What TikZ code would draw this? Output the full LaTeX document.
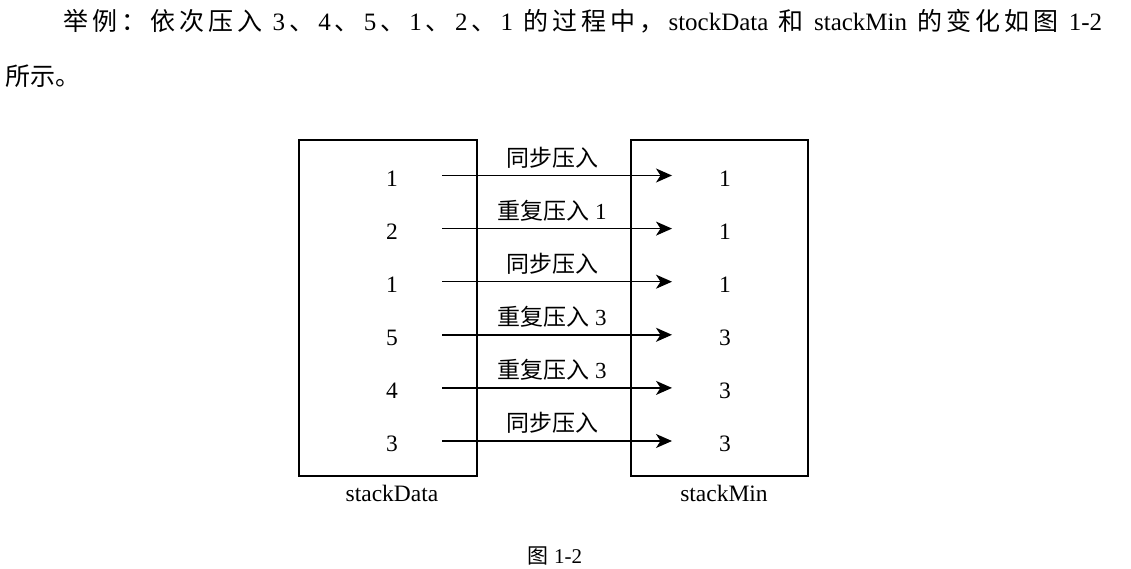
\documentclass[tikz,border=0pt]{standalone}
\usepackage{fontspec}
\setmainfont{Liberation Serif}
\newfontfamily\zh{Noto Sans CJK SC}
\usetikzlibrary{arrows.meta}
\newcommand\Z[1]{{\zh #1}}
\newcommand\J{\hskip 0pt plus 1fil\relax}
\tikzset{
  stackbox/.style={draw, line width=1.2pt, inner sep=0pt},
  numtxt/.style={font=\fontsize{23.5pt}{26pt}\selectfont, inner sep=0pt},
  lbltxt/.style={font=\fontsize{23pt}{26pt}\selectfont, inner sep=0pt},
  pusharrow/.style={line width=1.4pt, -{Stealth[length=16pt,width=14pt,inset=4.5pt]}},
  bodytxt/.style={font=\fontsize{25pt}{28pt}\selectfont, inner sep=0pt, anchor=base west},
}
\begin{document}
\begin{tikzpicture}[x=1pt,y=-1pt]
\path[use as bounding box] (0,0) rectangle (1131,569);
% paragraph text
\node[bodytxt] (line1) at (63,31) {\hbox to 1039pt{\Z{举}\J\Z{例}\J\Z{：}\J\Z{依}\J\Z{次}\J\Z{压}\J\Z{入}\J\ 3\J\Z{、}\J 4\J\Z{、}\J 5\J\Z{、}\J 1\J\Z{、}\J 2\J\Z{、}\J 1\ \J\Z{的}\J\Z{过}\J\Z{程}\J\Z{中}\J\Z{，}\J stockData\ \J\Z{和}\J\ stackMin\ \J\Z{的}\J\Z{变}\J\Z{化}\J\Z{如}\J\Z{图}\J\ 1-2}};
\node[bodytxt] (line2) at (5,86) {\Z{所示。}};
% boxes
\node[stackbox, minimum width=178pt, minimum height=336pt] (dbox) at (388,308) {};
\node[stackbox, minimum width=177pt, minimum height=336pt] (mbox) at (719.5,308) {};
\node[numtxt] (dname) at (392,493) {stackData};
\node[numtxt] (mname) at (724,493) {stackMin};
% rows
\foreach \i/\d/\m/\lab in {0/1/1/{\Z{同步压入}},1/2/1/{\Z{重复压入}\ 1},2/1/1/{\Z{同步压入}},3/5/3/{\Z{重复压入}\ 3},4/4/3/{\Z{重复压入}\ 3},5/3/3/{\Z{同步压入}}}{
  \pgfmathsetmacro\yy{175.5+53.1*\i}
  \node[numtxt] (d\i) at (392,\yy+3) {\d};
  \node[numtxt] (m\i) at (725,\yy+3) {\m};
  \coordinate (a\i) at (442,\yy);
  \coordinate (b\i) at (672,\yy);
  \draw[pusharrow] (a\i) -- (b\i);
  \node[lbltxt] (l\i) at (552,\yy-18) {\lab};
}
% caption
\node[font=\fontsize{21pt}{24pt}\selectfont, inner sep=0pt] (cap) at (555,556) {\Z{图}\ 1-2};
\end{tikzpicture}
\end{document}
